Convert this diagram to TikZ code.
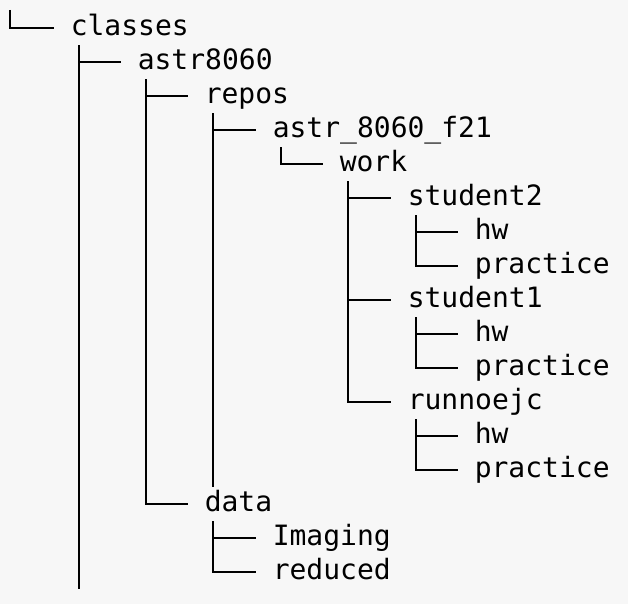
\documentclass[tikz,border=0pt]{standalone}
\usepackage{fontspec}
\setmonofont{DejaVu Sans Mono}
\usepackage{tikz}
\definecolor{fondo}{HTML}{F7F7F7}
\tikzset{
    carpeta/.style={
        anchor=west,
        inner sep=0pt,
        font=\ttfamily\fontsize{28}{34}\selectfont,
        text height=24.65pt,
        text depth=9.35pt
    },
    rama/.style={
        line width=2.6pt,
        line cap=butt
    }
}
\newcommand{\hijo}[2]{%
    \draw[rama] ([xshift=8.43pt]#1.south west) |- ([xshift=-16.86pt]#2.west);}

\begin{document}
\begin{tikzpicture}[
    x=1pt,
    y=-1pt
]

    \fill[fondo] (0,0) rectangle (628,604);

    % Carpetas
    \node[carpeta] (cl)   at (70.57,28)  {classes};
    \node[carpeta] (a8)   at (137.57,62) {astr8060};
    \node[carpeta] (rp)   at (204.57,96) {repos};
    \node[carpeta] (f21)  at (272.57,130) {astr\_8060\_f21};
    \node[carpeta] (wk)   at (339.57,164) {work};

    \node[carpeta] (s2)   at (407.57,198) {student2};
    \node[carpeta] (s2hw) at (474.57,232) {hw};
    \node[carpeta] (s2pr) at (474.57,266) {practice};

    \node[carpeta] (s1)   at (407.57,300) {student1};
    \node[carpeta] (s1hw) at (474.57,334) {hw};
    \node[carpeta] (s1pr) at (474.57,368) {practice};

    \node[carpeta] (rn)   at (407.57,402) {runnoejc};
    \node[carpeta] (rnhw) at (474.57,436) {hw};
    \node[carpeta] (rnpr) at (474.57,470) {practice};

    \node[carpeta] (dt)   at (204.57,504) {data};
    \node[carpeta] (im)   at (272.57,538) {Imaging};
    \node[carpeta] (rd)   at (272.57,572) {reduced};

    \coordinate (raiz) at (10,10);

    % Ramas
    \draw[rama] (raiz) |- ([xshift=-16.86pt]cl.west);

    % classes: la rama sigue hacia abajo
    \hijo{cl}{a8}
    \draw[rama] ([xshift=8.43pt]cl.south west)
        -- ([xshift=8.43pt]cl.south west |- rd.south);

    \hijo{a8}{rp}
    \hijo{a8}{dt}

    % repos: la rama llega hasta la fila de practice
    \hijo{rp}{f21}
    \draw[rama] ([xshift=8.43pt]rp.south west)
        -- ([xshift=8.43pt]rp.south west |- rnpr.south);

    \hijo{f21}{wk}

    \hijo{wk}{s2}
    \hijo{wk}{s1}
    \hijo{wk}{rn}

    \hijo{s2}{s2hw}
    \hijo{s2}{s2pr}
    \hijo{s1}{s1hw}
    \hijo{s1}{s1pr}
    \hijo{rn}{rnhw}
    \hijo{rn}{rnpr}

    \hijo{dt}{im}
    \hijo{dt}{rd}

\end{tikzpicture}
\end{document}
